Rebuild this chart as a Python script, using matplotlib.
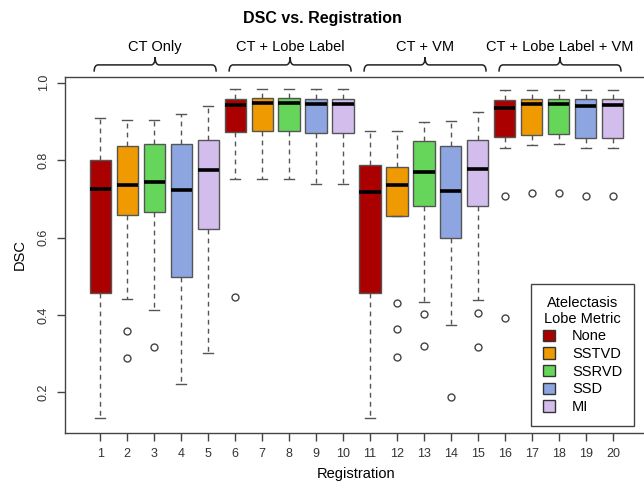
import matplotlib.pyplot as plt
from matplotlib.path import Path
from matplotlib.patches import PathPatch, Patch

plt.rcParams['font.family'] = ['Liberation Sans', 'DejaVu Sans']

# box statistics, registrations 1..20
registrations = list(range(1, 21))
whislo = [0.134, 0.442, 0.413, 0.221, 0.302,
          0.752, 0.752, 0.752, 0.739, 0.739,
          0.134, 0.655, 0.433, 0.375, 0.440,
          0.832, 0.840, 0.841, 0.832, 0.832]
q1 = [0.456, 0.658, 0.667, 0.499, 0.621,
      0.872, 0.875, 0.875, 0.870, 0.870,
      0.456, 0.655, 0.681, 0.598, 0.681,
      0.860, 0.866, 0.868, 0.858, 0.858]
med = [0.726, 0.737, 0.745, 0.724, 0.774,
       0.943, 0.949, 0.949, 0.946, 0.946,
       0.717, 0.736, 0.769, 0.720, 0.778,
       0.934, 0.946, 0.946, 0.941, 0.942]
q3 = [0.800, 0.836, 0.843, 0.843, 0.853,
      0.959, 0.960, 0.960, 0.957, 0.957,
      0.788, 0.783, 0.850, 0.837, 0.852,
      0.956, 0.958, 0.958, 0.957, 0.957]
whishi = [0.909, 0.904, 0.904, 0.920, 0.940,
          0.985, 0.985, 0.985, 0.985, 0.985,
          0.875, 0.875, 0.898, 0.901, 0.924,
          0.982, 0.982, 0.982, 0.982, 0.982]
fliers = [[], [0.360, 0.288], [0.318], [], [],
          [0.446], [], [], [], [],
          [], [0.431, 0.363, 0.291], [0.403, 0.321], [0.188], [0.405, 0.318],
          [0.707, 0.392], [0.715], [0.715], [0.707], [0.707]]

metrics = ['None', 'SSTVD', 'SSRVD', 'SSD', 'MI']
colors = ['#AA0000', '#EE9A00', '#66D65A', '#8DA5E0', '#D3BDEC']
groups = ['CT Only', 'CT + Lobe Label', 'CT + VM', 'CT + Lobe Label + VM']

fig = plt.figure(figsize=(6.44, 4.88), dpi=100)
ax = fig.add_axes([65 / 644, 1 - 432.7 / 488, 583 / 644, 355.7 / 488])

stats = []
for i in range(len(registrations)):
    stats.append(dict(whislo=whislo[i], q1=q1[i], med=med[i], q3=q3[i],
                      whishi=whishi[i], fliers=fliers[i]))

edge = '#555555'
bp = ax.bxp(stats, positions=registrations, widths=0.78, capwidths=0.39,
            patch_artist=True,
            boxprops=dict(edgecolor=edge, linewidth=1.0),
            medianprops=dict(color='black', linewidth=2.6, solid_capstyle='butt'),
            whiskerprops=dict(color=edge, linestyle=(0, (3.5, 3)), linewidth=1.0),
            capprops=dict(color=edge, linewidth=1.0),
            flierprops=dict(marker='o', markerfacecolor='none',
                            markeredgecolor='#444444', markersize=5,
                            markeredgewidth=1.0))
for i, box in enumerate(bp['boxes']):
    box.set_facecolor(colors[i % 5])

ax.set_xlim(-0.3, 21.3)
ax.set_ylim(0.096, 1.015)
ax.set_xticks(registrations)
ax.set_xticklabels([str(r) for r in registrations], fontsize=9, color='#333333')
ax.set_yticks([0.2, 0.4, 0.6, 0.8, 1.0])
ax.set_yticklabels(['0.2', '0.4', '0.6', '0.8', '1.0'], rotation=90,
                   va='center', fontsize=9, color='#333333')
ax.tick_params(length=6, width=1, color='#444444', pad=5)
for s in ax.spines.values():
    s.set_color('#444444')
    s.set_linewidth(1.0)

ax.set_xlabel('Registration', fontsize=10.5, labelpad=5)
ax.set_ylabel('DSC', fontsize=10.5, labelpad=8)

fig.text(0.5, 1 - 19 / 488, 'DSC vs. Registration', ha='center', va='center',
         fontsize=11.5, fontweight='bold')

# curly brackets over each group of five
trans = ax.get_xaxis_transform()
for k, g in enumerate(groups):
    x0 = 5 * k + 0.78
    x1 = 5 * k + 5.3
    xm = (x0 + x1) / 2
    yb, yh, yp = 1.015, 1.034, 1.056
    r = 0.15
    verts = [(x0, yb), (x0, yh), (x0 + r, yh),
             (xm - r, yh), (xm, yh), (xm, yp),
             (xm, yh), (xm + r, yh),
             (x1 - r, yh), (x1, yh), (x1, yb)]
    codes = [Path.MOVETO, Path.CURVE3, Path.CURVE3,
             Path.LINETO, Path.CURVE3, Path.CURVE3,
             Path.CURVE3, Path.CURVE3,
             Path.LINETO, Path.CURVE3, Path.CURVE3]
    ax.add_patch(PathPatch(Path(verts, codes), transform=trans, fill=False,
                           edgecolor='#222222', linewidth=1.1, clip_on=False))
    ax.text(xm, 1.084, g, transform=trans, ha='center', va='center', fontsize=10.5)

handles = [Patch(facecolor=c, edgecolor='#333333', label=m) for c, m in zip(colors, metrics)]
leg = ax.legend(handles=handles, title='Atelectasis\nLobe Metric', loc='lower right',
                bbox_to_anchor=(634 / 644, 1 - 425.7 / 488), bbox_transform=fig.transFigure,
                borderaxespad=0, fontsize=10.5, title_fontsize=10.5, fancybox=False,
                framealpha=1, edgecolor='#444444', handlelength=0.8, handleheight=0.8,
                borderpad=0.8, labelspacing=0.25, handletextpad=1.2)
leg.get_title().set_multialignment('center')
leg.get_frame().set_linewidth(1.0)

fig.savefig('out.png', dpi=100)
